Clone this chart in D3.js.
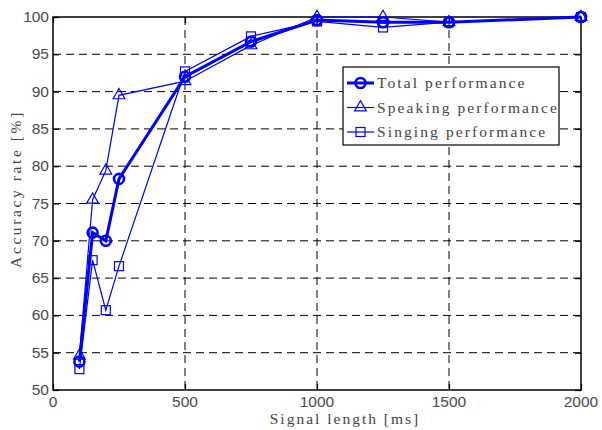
<!DOCTYPE html>
<html>
<head>
<script src="https://d3js.org/d3.v7.min.js"></script>
<style>
  body { margin: 0; background: #fff; }
  .tick-label { font-family: "Liberation Sans", Arial, sans-serif; font-size: 15.5px; fill: #4a4a4a; }
  .axis-label { font-family: "Liberation Serif", serif; font-size: 15.5px; fill: #444; letter-spacing: 2px; }
  .legend-text { font-family: "Liberation Serif", serif; font-size: 15.5px; fill: #444; letter-spacing: 2.1px; }
</style>
</head>
<body>
<script>
  // data
  let signalLength = [100, 150, 200, 250, 500, 750, 1000, 1250, 1500, 2000];
  let totalPerf    = [53.8, 71.1, 70.0, 78.3, 92.0, 96.7, 99.6, 99.3, 99.3, 100];
  let speakingPerf = [54.6, 75.5, 79.4, 89.5, 91.4, 96.2, 100, 100, 99.3, 100];
  let singingPerf  = [52.8, 67.4, 60.7, 66.6, 92.7, 97.4, 99.4, 98.6, 99.3, 100];
  let xTicks = [0, 500, 1000, 1500, 2000];
  let yTicks = [50, 55, 60, 65, 70, 75, 80, 85, 90, 95, 100];
  let seriesNames = ['Total performance', 'Speaking performance', 'Singing performance'];

  let width = 602, height = 430;
  let pLeft = 53, pRight = 581, pTop = 17, pBottom = 390;
  let blue = '#0000ff';

  let svg = d3.select('body').append('svg').attr('width', width).attr('height', height);

  let x = d3.scaleLinear().domain([0, 2000]).range([pLeft, pRight]);
  let y = d3.scaleLinear().domain([50, 100]).range([pBottom, pTop]);

  // dashed grid
  let grid = svg.append('g');
  grid.selectAll('.gx').data(xTicks.slice(1, -1)).enter().append('line')
      .attr('x1', d => x(d)).attr('x2', d => x(d)).attr('y1', pTop).attr('y2', pBottom)
      .attr('stroke', '#000').attr('stroke-width', 1).attr('stroke-dasharray', '8,5');
  grid.selectAll('.gy').data(yTicks.slice(1, -1)).enter().append('line')
      .attr('x1', pLeft).attr('x2', pRight).attr('y1', d => y(d)).attr('y2', d => y(d))
      .attr('stroke', '#000').attr('stroke-width', 1).attr('stroke-dasharray', '8,5');

  // frame
  svg.append('rect').attr('x', pLeft).attr('y', pTop).attr('width', pRight - pLeft).attr('height', pBottom - pTop)
     .attr('fill', 'none').attr('stroke', '#000').attr('stroke-width', 1.5);

  // inward ticks on all four sides
  let axB = d3.axisBottom(x).tickValues(xTicks).tickSize(-6).tickFormat('');
  let axT = d3.axisTop(x).tickValues(xTicks).tickSize(-6).tickFormat('');
  let axL = d3.axisLeft(y).tickValues(yTicks).tickSize(-6).tickFormat('');
  let axR = d3.axisRight(y).tickValues(yTicks).tickSize(-6).tickFormat('');
  [[axB, `translate(0,${pBottom})`], [axT, `translate(0,${pTop})`], [axL, `translate(${pLeft},0)`], [axR, `translate(${pRight},0)`]]
    .forEach(([ax, tr]) => {
      let g = svg.append('g').attr('transform', tr).call(ax);
      g.select('.domain').remove();
      g.selectAll('line').attr('stroke', '#000').attr('stroke-width', 1.2);
    });

  // tick labels
  svg.selectAll('.xl').data(xTicks).enter().append('text').classed('tick-label', true)
     .attr('x', d => x(d)).attr('y', pBottom + 17).attr('text-anchor', 'middle').text(d => d);
  svg.selectAll('.yl').data(yTicks).enter().append('text').classed('tick-label', true)
     .attr('x', pLeft - 4).attr('y', d => y(d) + 5).attr('text-anchor', 'end').text(d => d);

  // axis titles
  svg.append('text').classed('axis-label', true).attr('x', 345).attr('y', 424)
     .attr('text-anchor', 'middle').text('Signal length [ms]');
  svg.append('text').classed('axis-label', true).style('letter-spacing', '2.6px')
     .attr('transform', `translate(21,189) rotate(-90)`)
     .attr('text-anchor', 'middle').text('Accuracy rate [%]');

  let line = d3.line().x(d => x(d[0])).y(d => y(d[1]));

  function drawMarker(g, type, cx, cy, sw) {
    if (type === 'circle') {
      g.append('circle').attr('cx', cx).attr('cy', cy).attr('r', 5)
       .attr('fill', 'none').attr('stroke', blue).attr('stroke-width', sw);
    } else if (type === 'triangle') {
      g.append('path').attr('d', d3.symbol().type(d3.symbolTriangle).size(60)())
       .attr('transform', `translate(${cx},${cy})`)
       .attr('fill', 'none').attr('stroke', blue).attr('stroke-width', sw);
    } else {
      g.append('rect').attr('x', cx - 4.5).attr('y', cy - 4.5).attr('width', 9).attr('height', 9)
       .attr('fill', 'none').attr('stroke', blue).attr('stroke-width', sw);
    }
  }

  let series = [
    {values: singingPerf, marker: 'square', width: 1.2},
    {values: speakingPerf, marker: 'triangle', width: 1.2},
    {values: totalPerf, marker: 'circle', width: 3}
  ];

  series.forEach(s => {
    let pts = signalLength.map((v, i) => [v, s.values[i]]);
    svg.append('path').datum(pts).attr('d', line)
       .attr('fill', 'none').attr('stroke', blue).attr('stroke-width', s.width);
    let g = svg.append('g');
    pts.forEach(p => drawMarker(g, s.marker, x(p[0]), y(p[1]), s.width === 3 ? 2.6 : 1.2));
  });

  // legend
  let lg = svg.append('g').attr('transform', 'translate(343,67)');
  lg.append('rect').attr('width', 216).attr('height', 78)
    .attr('fill', '#fff').attr('stroke', '#000').attr('stroke-width', 1.2);
  let legendItems = [
    {name: seriesNames[0], marker: 'circle', width: 3},
    {name: seriesNames[1], marker: 'triangle', width: 1.2},
    {name: seriesNames[2], marker: 'square', width: 1.2}
  ];
  legendItems.forEach((it, i) => {
    let yy = 16 + i * 24.5;
    lg.append('line').attr('x1', 4).attr('x2', 31).attr('y1', yy).attr('y2', yy)
      .attr('stroke', blue).attr('stroke-width', it.width);
    drawMarker(lg, it.marker, 17.5, yy, it.width === 3 ? 2.6 : 1.2);
    lg.append('text').classed('legend-text', true).attr('x', 34).attr('y', yy + 5).text(it.name);
  });
</script>
</body>
</html>
